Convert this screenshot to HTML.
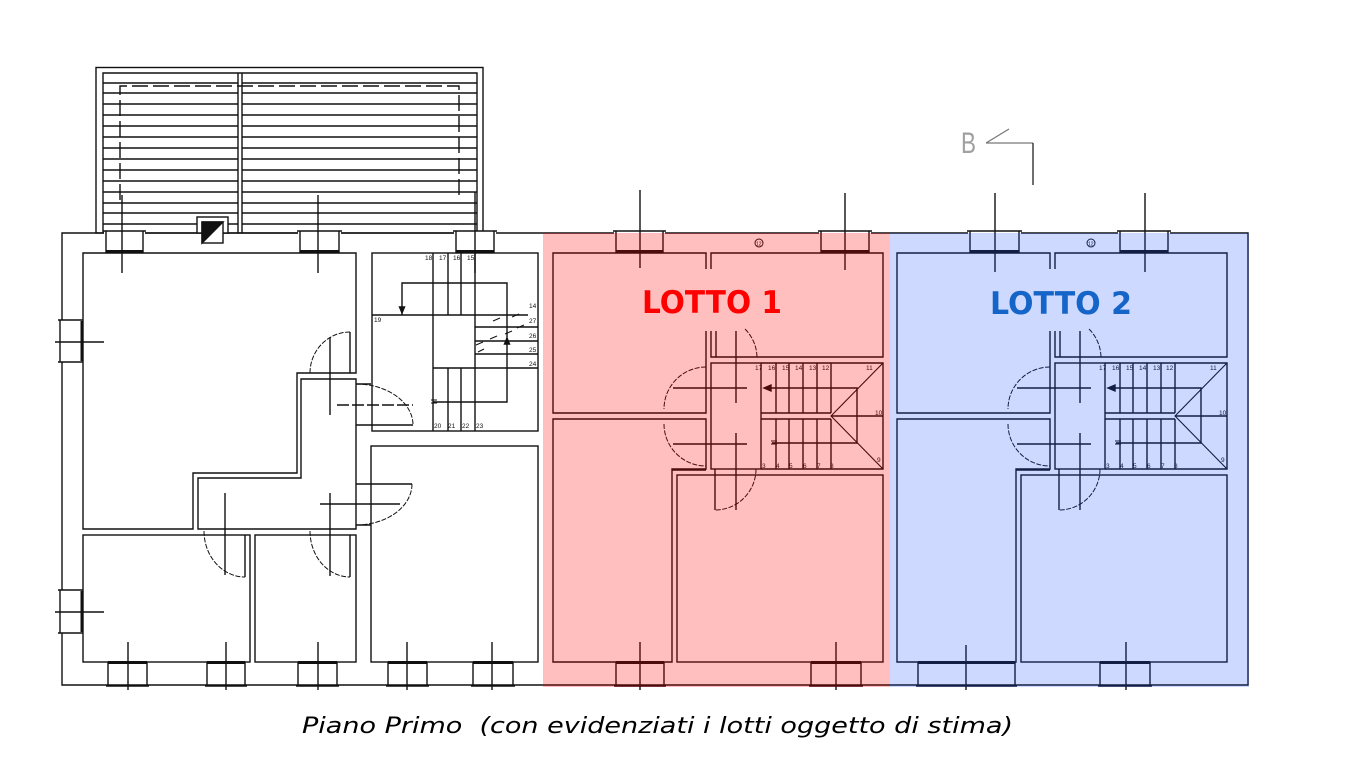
<!DOCTYPE html>
<html><head><meta charset="utf-8"><style>
html,body{margin:0;padding:0;background:#fff;}
svg{display:block;}
</style></head><body>
<svg width="1368" height="764" viewBox="0 0 1368 764" xmlns="http://www.w3.org/2000/svg">
<rect width="1368" height="764" fill="#fff"/>
<g fill="none" stroke="#111" stroke-width="1.4">
 <!-- terrace -->
 <rect x="96" y="67.5" width="387" height="165.5" fill="#fff"/>
 <path d="M103 233V73H477V233"/>
 <path d="M238 73V233M242 73V233"/>
 <path d="M103 83H238M242 83H477M103 93H238M242 93H477M103 104H238M242 104H477M103 115H238M242 115H477M103 126H238M242 126H477M103 137H238M242 137H477M103 148H238M242 148H477M103 159H238M242 159H477M103 170H238M242 170H477M103 181H238M242 181H477M103 192H238M242 192H477M103 203H238M242 203H477M103 213H238M242 213H477M103 224H238M242 224H477"/>
 <path d="M120 200V86H459V200" stroke-dasharray="16 5"/>

 <!-- outer wall -->
 <path d="M62 233H1248V685H62Z"/>

 <!-- chimney -->
 <rect x="197" y="217" width="31" height="16" fill="#fff"/>
 <rect x="202" y="222" width="21" height="21" fill="#fff"/>
 <path d="M202 222H223L202 243Z" fill="#111"/>

 <!-- top windows -->
 <g>
  <rect x="104" y="231" width="41" height="21" fill="#fff" stroke="none"/>
  <path d="M103 231H146M106 231V253M143 231V253"/><path d="M106 251.5H143" stroke-width="3"/>
  <rect x="298" y="231" width="43" height="21" fill="#fff" stroke="none"/>
  <path d="M297 231H342M300 231V253M339 231V253"/><path d="M300 251.5H339" stroke-width="3"/>
  <rect x="454" y="231" width="42" height="21" fill="#fff" stroke="none"/>
  <path d="M453 231H497M456 231V253M494 231V253"/><path d="M456 251.5H494" stroke-width="3"/>
  <rect x="614" y="231" width="51" height="21" fill="#fff" stroke="none"/>
  <path d="M613 231H666M616 231V253M663 231V253"/><path d="M616 251.5H663" stroke-width="3"/>
  <rect x="819" y="231" width="52" height="21" fill="#fff" stroke="none"/>
  <path d="M818 231H872M821 231V253M869 231V253"/><path d="M821 251.5H869" stroke-width="3"/>
  <rect x="968" y="231" width="53" height="21" fill="#fff" stroke="none"/>
  <path d="M967 231H1022M970 231V253M1019 231V253"/><path d="M970 251.5H1019" stroke-width="3"/>
  <rect x="1118" y="231" width="52" height="21" fill="#fff" stroke="none"/>
  <path d="M1117 231H1171M1120 231V253M1168 231V253"/><path d="M1120 251.5H1168" stroke-width="3"/>
 </g>
 <!-- top window axes -->
 <path d="M122 195V273M318 195V273M475 192V273M640 190V268M845 193V270M995 193V272M1145 193V272"/>

 <!-- bottom windows -->
 <g>
  <rect x="108" y="663" width="39" height="21" fill="#fff" stroke="none"/>
  <path d="M108 662V686M147 662V686M106 686H149"/><path d="M108 662.5H147" stroke-width="3"/>
  <rect x="207" y="663" width="38" height="21" fill="#fff" stroke="none"/>
  <path d="M207 662V686M245 662V686M205 686H247"/><path d="M207 662.5H245" stroke-width="3"/>
  <rect x="298" y="663" width="39" height="21" fill="#fff" stroke="none"/>
  <path d="M298 662V686M337 662V686M296 686H339"/><path d="M298 662.5H337" stroke-width="3"/>
  <rect x="388" y="663" width="39" height="21" fill="#fff" stroke="none"/>
  <path d="M388 662V686M427 662V686M386 686H429"/><path d="M388 662.5H427" stroke-width="3"/>
  <rect x="473" y="663" width="40" height="21" fill="#fff" stroke="none"/>
  <path d="M473 662V686M513 662V686M471 686H515"/><path d="M473 662.5H513" stroke-width="3"/>
  <rect x="616" y="663" width="48" height="21" fill="#fff" stroke="none"/>
  <path d="M616 662V686M664 662V686M614 686H666"/><path d="M616 662.5H664" stroke-width="3"/>
  <rect x="811" y="663" width="50" height="21" fill="#fff" stroke="none"/>
  <path d="M811 662V686M861 662V686M809 686H863"/><path d="M811 662.5H861" stroke-width="3"/>
  <rect x="918" y="663" width="97" height="21" fill="#fff" stroke="none"/>
  <path d="M918 662V686M1015 662V686M916 686H1017"/><path d="M918 662.5H1015" stroke-width="3"/>
  <rect x="1100" y="663" width="50" height="21" fill="#fff" stroke="none"/>
  <path d="M1100 662V686M1150 662V686M1098 686H1152"/><path d="M1100 662.5H1150" stroke-width="3"/>
 </g>
 <path d="M128 642V690M226 642V690M318 642V690M407 642V690M492 642V690M640 642V690M836 642V690M966 645V690M1126 642V690"/>

 <!-- left windows -->
 <rect x="61" y="320" width="21" height="42" fill="#fff" stroke="none"/>
 <path d="M58 320H83M58 362H83M60 320V362"/><path d="M82 321V361" stroke-width="3"/>
 <rect x="61" y="590" width="21" height="43" fill="#fff" stroke="none"/>
 <path d="M58 590H83M58 633H83M60 590V633"/><path d="M82 591V632" stroke-width="3"/>
 <path d="M55 342H104M55 612H104"/>

 <!-- left portion rooms -->
 <path d="M83 253H356V373H297V473H193V529H83Z"/>
 <path d="M350 332V373"/>
 <path d="M301 379H356V529H198V478H301Z"/>
 <rect x="83" y="535" width="167" height="127"/>
 <rect x="255" y="535" width="101" height="127"/>
 <rect x="371" y="446" width="167" height="216"/>
 <rect x="372" y="253" width="166" height="178"/>

 <!-- left doors -->
 <g stroke-width="1">
  <path d="M310 373A40 41 0 0 1 350 332" stroke-dasharray="5 1.5"/>
  <path d="M356 384A57 41 0 0 1 413 425" stroke-dasharray="5 1.5"/>
  <path d="M356 425H413M356 384H371" stroke-width="1.4"/>
  <path d="M412 484A56 41 0 0 1 356 525" stroke-dasharray="5 1.5"/>
  <path d="M356 484H412M356 525H371" stroke-width="1.4"/>
  <path d="M204 531A41 46 0 0 0 245 577" stroke-dasharray="5 1.5"/>
  <path d="M245 535V577" stroke-width="1.4"/>
  <path d="M310 531A40 46 0 0 0 350 577" stroke-dasharray="5 1.5"/>
  <path d="M350 535V577" stroke-width="1.4"/>
 </g>
 <path d="M330 337V415M330 493V576M320 504H400M225 493V575"/>
 <path d="M337 405H413" stroke-dasharray="12 3"/>

 <!-- left stair -->
 <path d="M433 253V431M475 253V431M448 253V315M461 253V315M448 368V431M461 368V431"/>
 <path d="M372 315H528M433 368H538M475 327H538M475 341H538M475 354H538"/>
 <path d="M402 315V283H507V402H433"/>
 <path d="M402 313l-2.5-6h5z" fill="#111"/>
 <path d="M507 338l-2.5 6h5z" fill="#111"/>
 <path d="M476 345l7-3M490 339l7-3M505 334l7-3M517 328l7-3M478 352l6-3M493 321l7-3M512 317l7-3" stroke-width="1"/>
 <path d="M431 400h6M431 403h6" stroke-width="1"/>

 <!-- lotto interiors (1) -->
 <g>
  <path d="M706 269V253H553V413H706V331"/>
  <path d="M711 269V253H883V357H711V331"/>
  <path d="M553 419H706V469H672V662H553Z"/>
  <rect x="677" y="475" width="206" height="187"/>
  <path d="M672 470H706"/>
  <rect x="711" y="363" width="50" height="106"/>
  <path d="M761 363H883V469H761"/>
  <path d="M776 363V413M789 363V413M803 363V413M817 363V413M831 363V413M776 419V469M789 419V469M803 419V469M817 419V469M831 419V469"/>
  <path d="M761 413H831M761 419H831M831 416H883"/>
  <path d="M883 363L831 416L883 469" stroke-width="1.1"/>
  <path d="M770 388H857V443H772"/>
  <path d="M764 388l7-3v6z" fill="#111"/>
  <path d="M771 441h6M771 444h6" stroke-width="1"/>
  <path d="M673 388H747M736 331V403M673 444H747M736 433V510"/>
  <g stroke-width="1" stroke-dasharray="5 1.5">
   <path d="M706 367A42 42 0 0 0 664 409"/>
   <path d="M664 424A42 42 0 0 0 706 466"/>
   <path d="M756 469A41 41 0 0 1 715 510"/>
   <path d="M745 329A41 41 0 0 1 757 358"/>
  </g>
  <path d="M715 469V510M716 331V357"/>
 </g>
 <!-- lotto interiors (2) -->
 <g transform="translate(344 0)">
  <path d="M706 269V253H553V413H706V331"/>
  <path d="M711 269V253H883V357H711V331"/>
  <path d="M553 419H706V469H672V662H553Z"/>
  <rect x="677" y="475" width="206" height="187"/>
  <path d="M672 470H706"/>
  <rect x="711" y="363" width="50" height="106"/>
  <path d="M761 363H883V469H761"/>
  <path d="M776 363V413M789 363V413M803 363V413M817 363V413M831 363V413M776 419V469M789 419V469M803 419V469M817 419V469M831 419V469"/>
  <path d="M761 413H831M761 419H831M831 416H883"/>
  <path d="M883 363L831 416L883 469" stroke-width="1.1"/>
  <path d="M770 388H857V443H772"/>
  <path d="M764 388l7-3v6z" fill="#111"/>
  <path d="M771 441h6M771 444h6" stroke-width="1"/>
  <path d="M673 388H747M736 331V403M673 444H747M736 433V510"/>
  <g stroke-width="1" stroke-dasharray="5 1.5">
   <path d="M706 367A42 42 0 0 0 664 409"/>
   <path d="M664 424A42 42 0 0 0 706 466"/>
   <path d="M756 469A41 41 0 0 1 715 510"/>
   <path d="M745 329A41 41 0 0 1 757 358"/>
  </g>
  <path d="M715 469V510M716 331V357"/>
 </g>
 <circle cx="759" cy="243" r="4" stroke-width="1"/>
 <circle cx="1091" cy="243" r="4" stroke-width="1"/>
</g>

<!-- small labels -->
<g font-family="Liberation Sans, sans-serif" font-size="6.5" fill="#111">
 <text x="425" y="260">18</text><text x="439" y="260">17</text><text x="453" y="260">16</text><text x="467" y="260">15</text>
 <text x="529" y="308">14</text><text x="529" y="323">27</text><text x="529" y="338">26</text><text x="529" y="352">25</text><text x="529" y="366">24</text>
 <text x="374" y="322">19</text>
 <text x="434" y="428">20</text><text x="448" y="428">21</text><text x="462" y="428">22</text><text x="476" y="428">23</text>
 <text x="755" y="370">17</text><text x="768" y="370">16</text><text x="782" y="370">15</text><text x="795" y="370">14</text><text x="809" y="370">13</text><text x="822" y="370">12</text><text x="866" y="370">11</text>
 <text x="875" y="415">10</text><text x="877" y="462">9</text>
 <text x="762" y="468">3</text><text x="776" y="468">4</text><text x="789" y="468">5</text><text x="803" y="468">6</text><text x="817" y="468">7</text><text x="830" y="468">8</text>
 <text x="1099" y="370">17</text><text x="1112" y="370">16</text><text x="1126" y="370">15</text><text x="1139" y="370">14</text><text x="1153" y="370">13</text><text x="1166" y="370">12</text><text x="1210" y="370">11</text>
 <text x="1219" y="415">10</text><text x="1221" y="462">9</text>
 <text x="1106" y="468">3</text><text x="1120" y="468">4</text><text x="1133" y="468">5</text><text x="1147" y="468">6</text><text x="1161" y="468">7</text><text x="1174" y="468">8</text>
 <text x="756" y="245.5" font-size="5">12</text><text x="1088" y="245.5" font-size="5">12</text>
</g>

<!-- overlays -->
<rect x="543" y="233" width="347" height="454" fill="rgba(255,0,0,0.25)"/>
<rect x="890" y="233" width="359" height="454" fill="rgba(30,80,255,0.22)"/>

<!-- LOTTO labels -->
<text x="642" y="313" font-family="DejaVu Sans, Liberation Sans, sans-serif" font-weight="bold" font-size="31" fill="#ff0000" textLength="140" lengthAdjust="spacingAndGlyphs">LOTTO 1</text>
<text x="990" y="314" font-family="DejaVu Sans, Liberation Sans, sans-serif" font-weight="bold" font-size="31" fill="#1565c8" textLength="142" lengthAdjust="spacingAndGlyphs">LOTTO 2</text>

<!-- section marker B -->
<text x="961" y="153" font-family="Liberation Sans, sans-serif" font-size="30" fill="#a0a0a0" textLength="15" lengthAdjust="spacingAndGlyphs">B</text>
<path d="M986 143L1009 129M986 143H1033" stroke="#777" stroke-width="1.3" fill="none"/>
<path d="M1033 143V185" stroke="#222" stroke-width="1.3" fill="none"/>

<!-- caption -->
<text x="302" y="733" font-family="DejaVu Sans, Liberation Sans, sans-serif" font-style="italic" font-size="22.5" fill="#000" textLength="711" lengthAdjust="spacingAndGlyphs" xml:space="preserve">Piano Primo  (con evidenziati i lotti oggetto di stima)</text>
</svg>
</body></html>
